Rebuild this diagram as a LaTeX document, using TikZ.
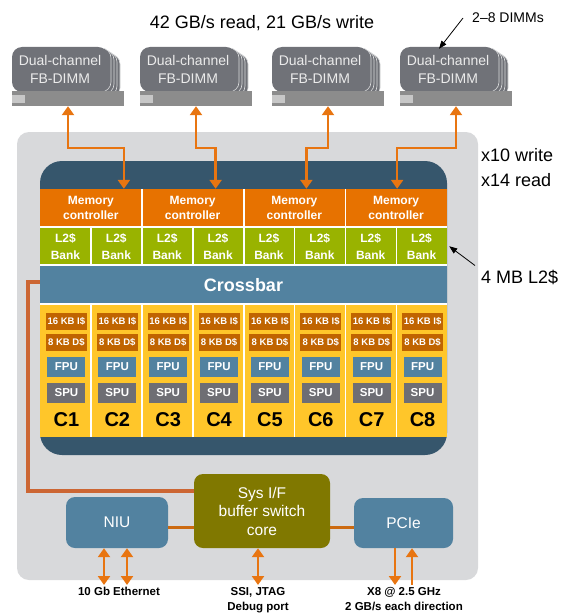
\documentclass[tikz,border=0pt]{standalone}
\usepackage{fontspec}
\setmainfont{Liberation Sans}
\usetikzlibrary{arrows.meta,positioning,calc}

\definecolor{chipgray}{HTML}{D8D9DB}
\definecolor{chipnavy}{HTML}{36566C}
\definecolor{mcorange}{HTML}{E77200}
\definecolor{bankgreen}{HTML}{99B300}
\definecolor{xbarblue}{HTML}{5282A0}
\definecolor{coreyellow}{HTML}{FFC62A}
\definecolor{cachebrown}{HTML}{C06400}
\definecolor{spugray}{HTML}{6E6E74}
\definecolor{sysolive}{HTML}{807800}
\definecolor{dimmgray}{HTML}{707278}
\definecolor{bargray}{HTML}{8C8C8C}
\definecolor{linkorange}{HTML}{E87511}
\definecolor{busorange}{HTML}{CC6633}
\definecolor{wireorange}{HTML}{CC6A10}

\begin{document}
\begin{tikzpicture}[x=1pt,y=-1pt,
		cell/.style={inner sep=0pt, text=white, align=center, font=\fontsize{12}{15}\selectfont\bfseries},
		cache/.style={cell, fill=cachebrown, minimum width=41pt, minimum height=17pt, font=\fontsize{9.5}{9.5}\selectfont\bfseries},
		unit/.style={cell, minimum width=38pt, minimum height=20pt, font=\fontsize{11.5}{12}\selectfont\bfseries},
		corelbl/.style={inner sep=0pt, font=\fontsize{20}{20}\selectfont\bfseries},
		gap/.style={white, line width=1.6pt},
		dimm/.style={fill=dimmgray, rounded corners=10pt, inner sep=0pt, minimum width=96pt, minimum height=45pt, text=white!92!black, align=center, font=\fontsize{14}{18}\selectfont},
		dimmback/.style={fill=dimmgray, draw=white!75!dimmgray, line width=0.6pt, rounded corners=10pt},
		slot/.style={fill=bargray, inner sep=0pt, minimum width=112pt, minimum height=15pt},
		blk/.style={rounded corners=9pt, inner sep=0pt, text=white, align=center, font=\fontsize{15.5}{18.5}\selectfont},
		note/.style={inner sep=0pt, align=left, font=\fontsize{18}{25}\selectfont},
		lbl/.style={inner sep=1pt, align=center, font=\fontsize{11.5}{15.5}\selectfont\bfseries},
		link/.style={linkorange, line width=2.5pt, >={Triangle[width=12pt,length=9pt]}},
		pointer/.style={line width=0.8pt, -{Triangle[width=6pt,length=8pt]}},
		bus/.style={busorange, line width=3.5pt},
		wire/.style={wireorange, line width=3pt}]

	\useasboundingbox (0,0) rectangle (561,615);

	% chip outline
	\fill[chipgray, rounded corners=12pt] (17,132) rectangle (478,580);
	\fill[chipnavy, rounded corners=22pt] (40,161) rectangle (447,455);

	\foreach \j in {1,...,4} {
		\pgfmathsetmacro\cx{40+101.75*(\j-0.5)}
		\node[cell, fill=mcorange, minimum width=101.75pt, minimum height=38.25pt] (mc\j) at (\cx,208.125) {Memory\\controller};
	}

	\node[cell, fill=xbarblue, minimum width=407pt, minimum height=39pt, font=\fontsize{18}{18}\selectfont\bfseries] (xbar) at (243.5,284.75) {Crossbar};

	\foreach \i in {1,...,8} {
		\pgfmathsetmacro\cx{40+50.875*(\i-0.5)}
		\node[cell, fill=bankgreen, minimum width=50.875pt, minimum height=38pt, font=\fontsize{12}{17}\selectfont\bfseries] (bank\i) at (\cx,246.25) {L2\$\\Bank};
		\node[cell, fill=coreyellow, minimum width=50.875pt, minimum height=132.75pt] (core\i) at (\cx,370.625) {};
		\node[cache] (ic\i) at (\cx+1,321.5) {16 KB I\$};
		\node[cache] (dc\i) at (\cx+1,342.5) {8 KB D\$};
		\node[unit, fill=xbarblue] (fpu\i) at (\cx+1,367) {FPU};
		\node[unit, fill=spugray] (spu\i) at (\cx+1,393) {SPU};
		\node[corelbl] (clbl\i) at (\cx+1,420) {C\i};
	}

	% white gaps between the blocks
	\foreach \y in {227.25,265.25,304.25}
		\draw[gap] (40,\y) -- (447,\y);
	\foreach \i in {1,...,7} {
		\draw[gap] (bank\i.north east) -- (bank\i.south east);
		\draw[gap] (core\i.north east) -- (core\i.south east);
	}
	\foreach \j in {1,...,3}
		\draw[gap] (mc\j.north east) -- (mc\j.south east);

	% DIMM stacks
	\foreach \L [count=\j] in {12,140,272,400} {
		\foreach \k in {4,3,2,1}
			\draw[dimmback] (\L+3*\k,46+2*\k) rectangle ++(96,44);
		\node[dimm] (dimm\j) at (\L+48,69.5) {Dual-channel\\FB-DIMM};
		\node[slot] (bar\j) at (\L+56,98.5) {};
		\fill[black!22] (\L,95) rectangle ++(13,8);
	}

	\foreach \j/\o in {1/33,2/23,3/12,4/1}
		\draw[link, <->] (bar\j.south) -- ++(0,42) -| ([xshift=\o pt]mc\j.north);

	\node[note] (rate) at (262,23) {42 GB/s read, 21 GB/s write};
	\node[note, font=\fontsize{14}{14}\selectfont] (dimmcount) at (508,18) {2--8 DIMMs};
	\draw[pointer] ([xshift=-9pt]dimmcount.west) -- ([xshift=-9pt,yshift=-2pt]dimm4.north);

	\node[note, anchor=west] (bw) at (481,167.5) {x10 write\\x14 read};
	\node[note, anchor=west] (l2size) at (481,277) {4 MB L2\$};
	\draw[pointer] ([xshift=-6pt,yshift=4pt]l2size.north west) -- ([xshift=2pt]bank8.east);

	% system interface
	\node[blk, fill=sysolive, minimum width=136pt, minimum height=74pt] (sysif) at (262,511) {Sys I/F\\buffer switch\\core};
	\node[blk, fill=xbarblue, minimum width=102pt, minimum height=51pt] (niu) at (117,522.5) {NIU};
	\node[blk, fill=xbarblue, minimum width=99pt, minimum height=50pt] (pcie) at (403.5,523) {PCIe};

	\draw[bus] ([yshift=3pt]xbar.west) -- ++(-12,0) |- ([yshift=20pt]sysif.west);
	\draw[wire] ([yshift=-4.5pt]niu.east) -- ([yshift=-4.5pt]niu.east -| sysif.west);
	\draw[wire] ([yshift=-4pt]pcie.west) -- ([yshift=-4pt]pcie.west -| sysif.east);

	\node[lbl, anchor=north] (eth) at (119,586) {10 Gb Ethernet};
	\node[lbl, anchor=north] (jtag) at (258,586) {SSI, JTAG\\Debug port};
	\node[lbl, anchor=north] (pcilbl) at (404,586) {X8 @ 2.5 GHz\\2 GB/s each direction};

	\draw[link, <->] ([xshift=-13pt]niu.south) -- ([xshift=-13pt,yshift=1pt]niu.south |- eth.north);
	\draw[link, <->] ([xshift=10pt]niu.south) -- ([xshift=10pt,yshift=1pt]niu.south |- eth.north);
	\draw[link, <->] ([xshift=-4pt]sysif.south) -- ([xshift=-4pt,yshift=1pt]sysif.south |- jtag.north);
	\draw[link, ->] ([xshift=-8.5pt]pcie.south) -- ([xshift=-8.5pt,yshift=1pt]pcie.south |- pcilbl.north);
	\draw[link, <-] ([xshift=8.5pt]pcie.south) -- ([xshift=8.5pt,yshift=1pt]pcie.south |- pcilbl.north);
\end{tikzpicture}
\end{document}
